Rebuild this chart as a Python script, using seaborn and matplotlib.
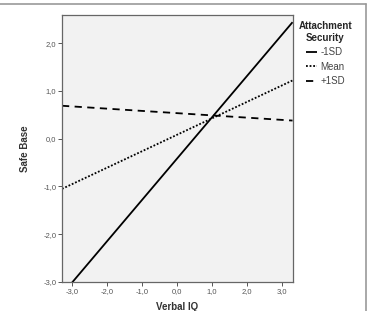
import pandas as pd
import matplotlib.pyplot as plt
import seaborn as sns
from matplotlib.lines import Line2D

# values (line endpoints at the axis edges)
x_ends = [-3.3, 3.3]
low_sd = [-3.26, 2.44]     # -1SD
mean_sd = [-1.05, 1.22]    # Mean
high_sd = [0.69, 0.38]     # +1SD
series_names = ['-1SD', 'Mean', '+1SD']

x_ticks = [-3.0, -2.0, -1.0, 0.0, 1.0, 2.0, 3.0]
x_tick_labels = ['-3,0', '-2,0', '-1,0', '0,0', '1,0', '2,0', '3,0']
y_ticks = [-3.0, -2.0, -1.0, 0.0, 1.0, 2.0]
y_tick_labels = ['-3,0', '-2,0', '-1,0', '0,0', '1,0', '2,0']

df = pd.DataFrame({
    'Verbal IQ': x_ends * 3,
    'Safe Base': low_sd + mean_sd + high_sd,
    'group': [n for n in series_names for _ in x_ends],
})

sns.set_style('white')
plt.rcParams['font.family'] = ['Liberation Sans', 'DejaVu Sans']

fig = plt.figure(figsize=(3.68, 3.11), dpi=100)
ax = fig.add_axes([0.1685, 0.0932, 0.6265, 0.857])
ax.set_facecolor('#f2f2f2')

styles = {'-1SD': (0, ()), 'Mean': (0, (1, 1)), '+1SD': (0, (4, 3))}
handles = []
for name in series_names:
    sub = df[df['group'] == name]
    sns.lineplot(data=sub, x='Verbal IQ', y='Safe Base', ax=ax, color='black',
                 linewidth=1.3, linestyle=styles[name], legend=False)
    handles.append(Line2D([], [], color='black', linewidth=1.3, linestyle=styles[name]))

ax.set_xlim(-3.3, 3.3)
ax.set_ylim(-3.0, 2.58)
ax.set_xticks(x_ticks)
ax.set_xticklabels(x_tick_labels)
ax.set_yticks(y_ticks)
ax.set_yticklabels(y_tick_labels)
ax.tick_params(axis='both', labelsize=5.5, labelcolor='#555555', color='#555555',
               length=3, width=0.7, pad=1, direction='out')
ax.tick_params(left=True, bottom=True)
for s in ax.spines.values():
    s.set_color('#666666')
    s.set_linewidth(0.9)

ax.set_xlabel('Verbal IQ', fontsize=7, fontweight='bold', color='#333333', labelpad=5)
ax.set_ylabel('Safe Base', fontsize=7, fontweight='bold', color='#333333', labelpad=10)

leg = ax.legend(handles, series_names, title='Attachment\nSecurity', loc='upper left',
                bbox_to_anchor=(1.0, 1.0), frameon=False, fontsize=7,
                title_fontsize=7, handlelength=1.2, handletextpad=0.3,
                labelspacing=0.45, borderpad=0.2, borderaxespad=0.4)
leg.get_title().set_fontweight('bold')
leg.get_title().set_multialignment('center')
for t in leg.get_texts():
    t.set_color('#444444')

# outer frame lines (top and right)
fig.add_artist(Line2D([0, 0.995], [0.987, 0.987], transform=fig.transFigure,
                      color='#999999', linewidth=1.2))
fig.add_artist(Line2D([0.995, 0.995], [0, 0.987], transform=fig.transFigure,
                      color='#999999', linewidth=1.2))

fig.savefig('out.png', dpi=100)
